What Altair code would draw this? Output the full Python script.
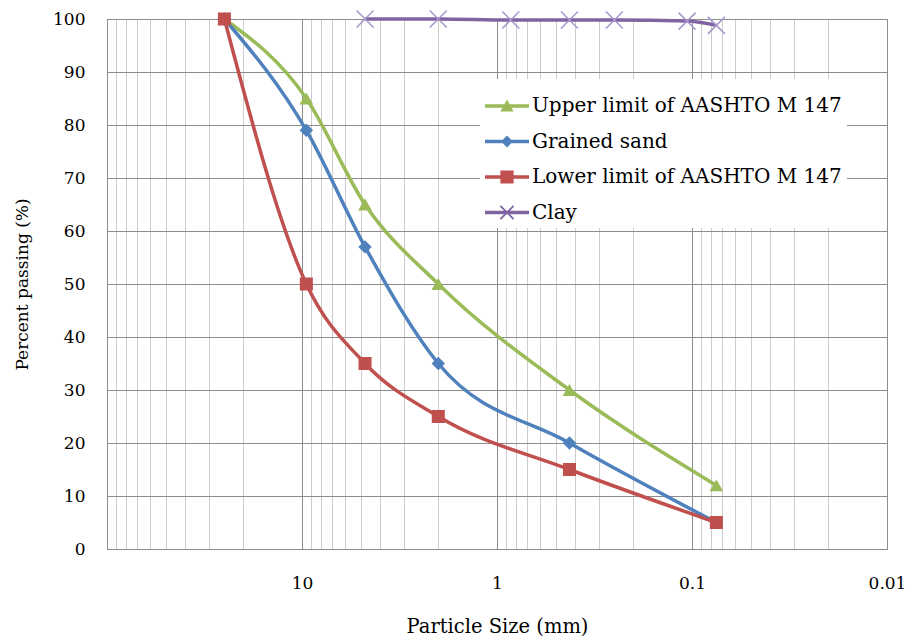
import altair as alt
import pandas as pd

series_names = ["Upper limit of AASHTO M 147", "Grained sand",
                "Lower limit of AASHTO M 147", "Clay"]
sieve_sizes = [25, 9.5, 4.75, 2, 0.425, 0.075]
upper_pass = [100, 85, 65, 50, 30, 12]
sand_pass = [100, 79, 57, 35, 20, 5]
lower_pass = [100, 50, 35, 25, 15, 5]
clay_sizes = [4.75, 2, 0.85, 0.425, 0.25, 0.106, 0.075]
clay_pass = [100, 100, 99.8, 99.8, 99.8, 99.6, 98.8]
x_label_values = [10, 1, 0.1, 0.01]
y_ticks = list(range(0, 101, 10))
colors = ["#9BBB59", "#4F81BD", "#C0504D", "#8064A2"]

rows = []
for name, vals in zip(series_names[:3], [upper_pass, sand_pass, lower_pass]):
    for s, v in zip(sieve_sizes, vals):
        rows.append({"series": name, "size": s, "pass": v})
for s, v in zip(clay_sizes, clay_pass):
    rows.append({"series": "Clay", "size": s, "pass": v})
df = pd.DataFrame(rows)

grid_vals = [m * 10 ** e for e in range(-2, 2) for m in range(1, 10)] + [100]
is_major = "abs(log(datum.value)/LN10 - round(log(datum.value)/LN10)) < 0.001"
label_expr = f"({is_major}) && datum.value < 50 ? format(datum.value, '~g') : ''"

FONT = "DejaVu Serif"

x_enc = alt.X(
    "size:Q",
    scale=alt.Scale(type="log", domain=[0.01, 100], reverse=True, nice=False),
    axis=alt.Axis(
        values=grid_vals,
        labelExpr=label_expr,
        gridColor={"condition": {"test": is_major, "value": "#8c8c8c"}, "value": "#cccccc"},
        ticks=False, domain=False, labelPadding=26, titlePadding=26,
        title="Particle Size (mm)", labelFlush=False, titleFontSize=19.5,
    ),
)
y_enc = alt.Y(
    "pass:Q",
    scale=alt.Scale(domain=[0, 100], nice=False),
    axis=alt.Axis(values=y_ticks, gridColor="#8c8c8c", ticks=False, domain=False,
                  labelPadding=22, titlePadding=21, title="Percent passing (%)",
                  titleFontSize=17),
)

lines = alt.Chart(df).mark_line(strokeWidth=3.5, interpolate="monotone").encode(
    x=x_enc, y=y_enc,
    color=alt.Color("series:N", scale=alt.Scale(domain=series_names, range=colors), legend=None),
    order=alt.Order("size:Q", sort="descending"),
)

std_names = series_names[:3]
points = alt.Chart(df).transform_filter(
    alt.FieldOneOfPredicate(field="series", oneOf=std_names)
).mark_point(filled=True, opacity=1).encode(
    x="size:Q", y="pass:Q",
    color=alt.Color("series:N", scale=alt.Scale(domain=std_names, range=colors[:3]), legend=None),
    shape=alt.Shape("series:N", scale=alt.Scale(domain=std_names,
                                                range=["triangle-up", "diamond", "square"]), legend=None),
    size=alt.Size("series:N", scale=alt.Scale(domain=std_names, range=[190, 170, 240]), legend=None),
)

clay_points = alt.Chart(df).transform_filter(alt.datum.series == "Clay").mark_point(
    shape="M-1,-1L1,1M-1,1L1,-1", filled=False, stroke="#a797cb", strokeWidth=1.5,
    size=289, opacity=1,
).encode(x="size:Q", y="pass:Q")

line_p = "M-1,-0.08L1,-0.08L1,0.08L-1,0.08Z"
legend_paths = [
    line_p + "M0,-0.3L0.3,0.25L-0.3,0.25Z",
    line_p + "M0,-0.27L0.27,0L0,0.27L-0.27,0Z",
    line_p + "M-0.3,-0.3L0.3,-0.3L0.3,0.3L-0.3,0.3Z",
    line_p + "M-0.272,-0.328L0.328,0.272L0.272,0.328L-0.328,-0.272Z"
             "M-0.328,0.272L0.272,-0.328L0.328,-0.272L-0.272,0.328Z",
]
leg = alt.Legend(
    title=None, orient="none", legendX=373, legendY=60, fillColor="white",
    padding=5, symbolSize=1936, symbolStrokeWidth=0, symbolOpacity=1,
    labelFont=FONT, labelFontSize=20, labelColor="black", labelLimit=0,
    labelOffset=3, rowPadding=3.5,
)
legend_layer = alt.Chart(df).transform_filter("false").mark_point(filled=True, opacity=1).encode(
    x="size:Q", y="pass:Q",
    color=alt.Color("series:N", scale=alt.Scale(domain=series_names, range=colors), legend=leg),
    shape=alt.Shape("series:N", scale=alt.Scale(domain=series_names, range=legend_paths), legend=leg),
)

chart = alt.layer(lines, points, clay_points, legend_layer).resolve_scale(
    color="independent", shape="independent", size="independent"
).properties(
    width=780, height=530,
    autosize=alt.AutoSizeParams(type="none"),
    padding={"left": 107, "top": 19, "right": 20, "bottom": 91},
    background="white",
).configure_axis(
    labelFont=FONT, labelFontSize=17, labelColor="black",
    titleFont=FONT, titleFontWeight="normal", titleColor="black",
).configure_view(stroke="#6a6a6a", strokeWidth=1)

chart.save("out.html", embed_options={"renderer": "svg", "actions": False})
